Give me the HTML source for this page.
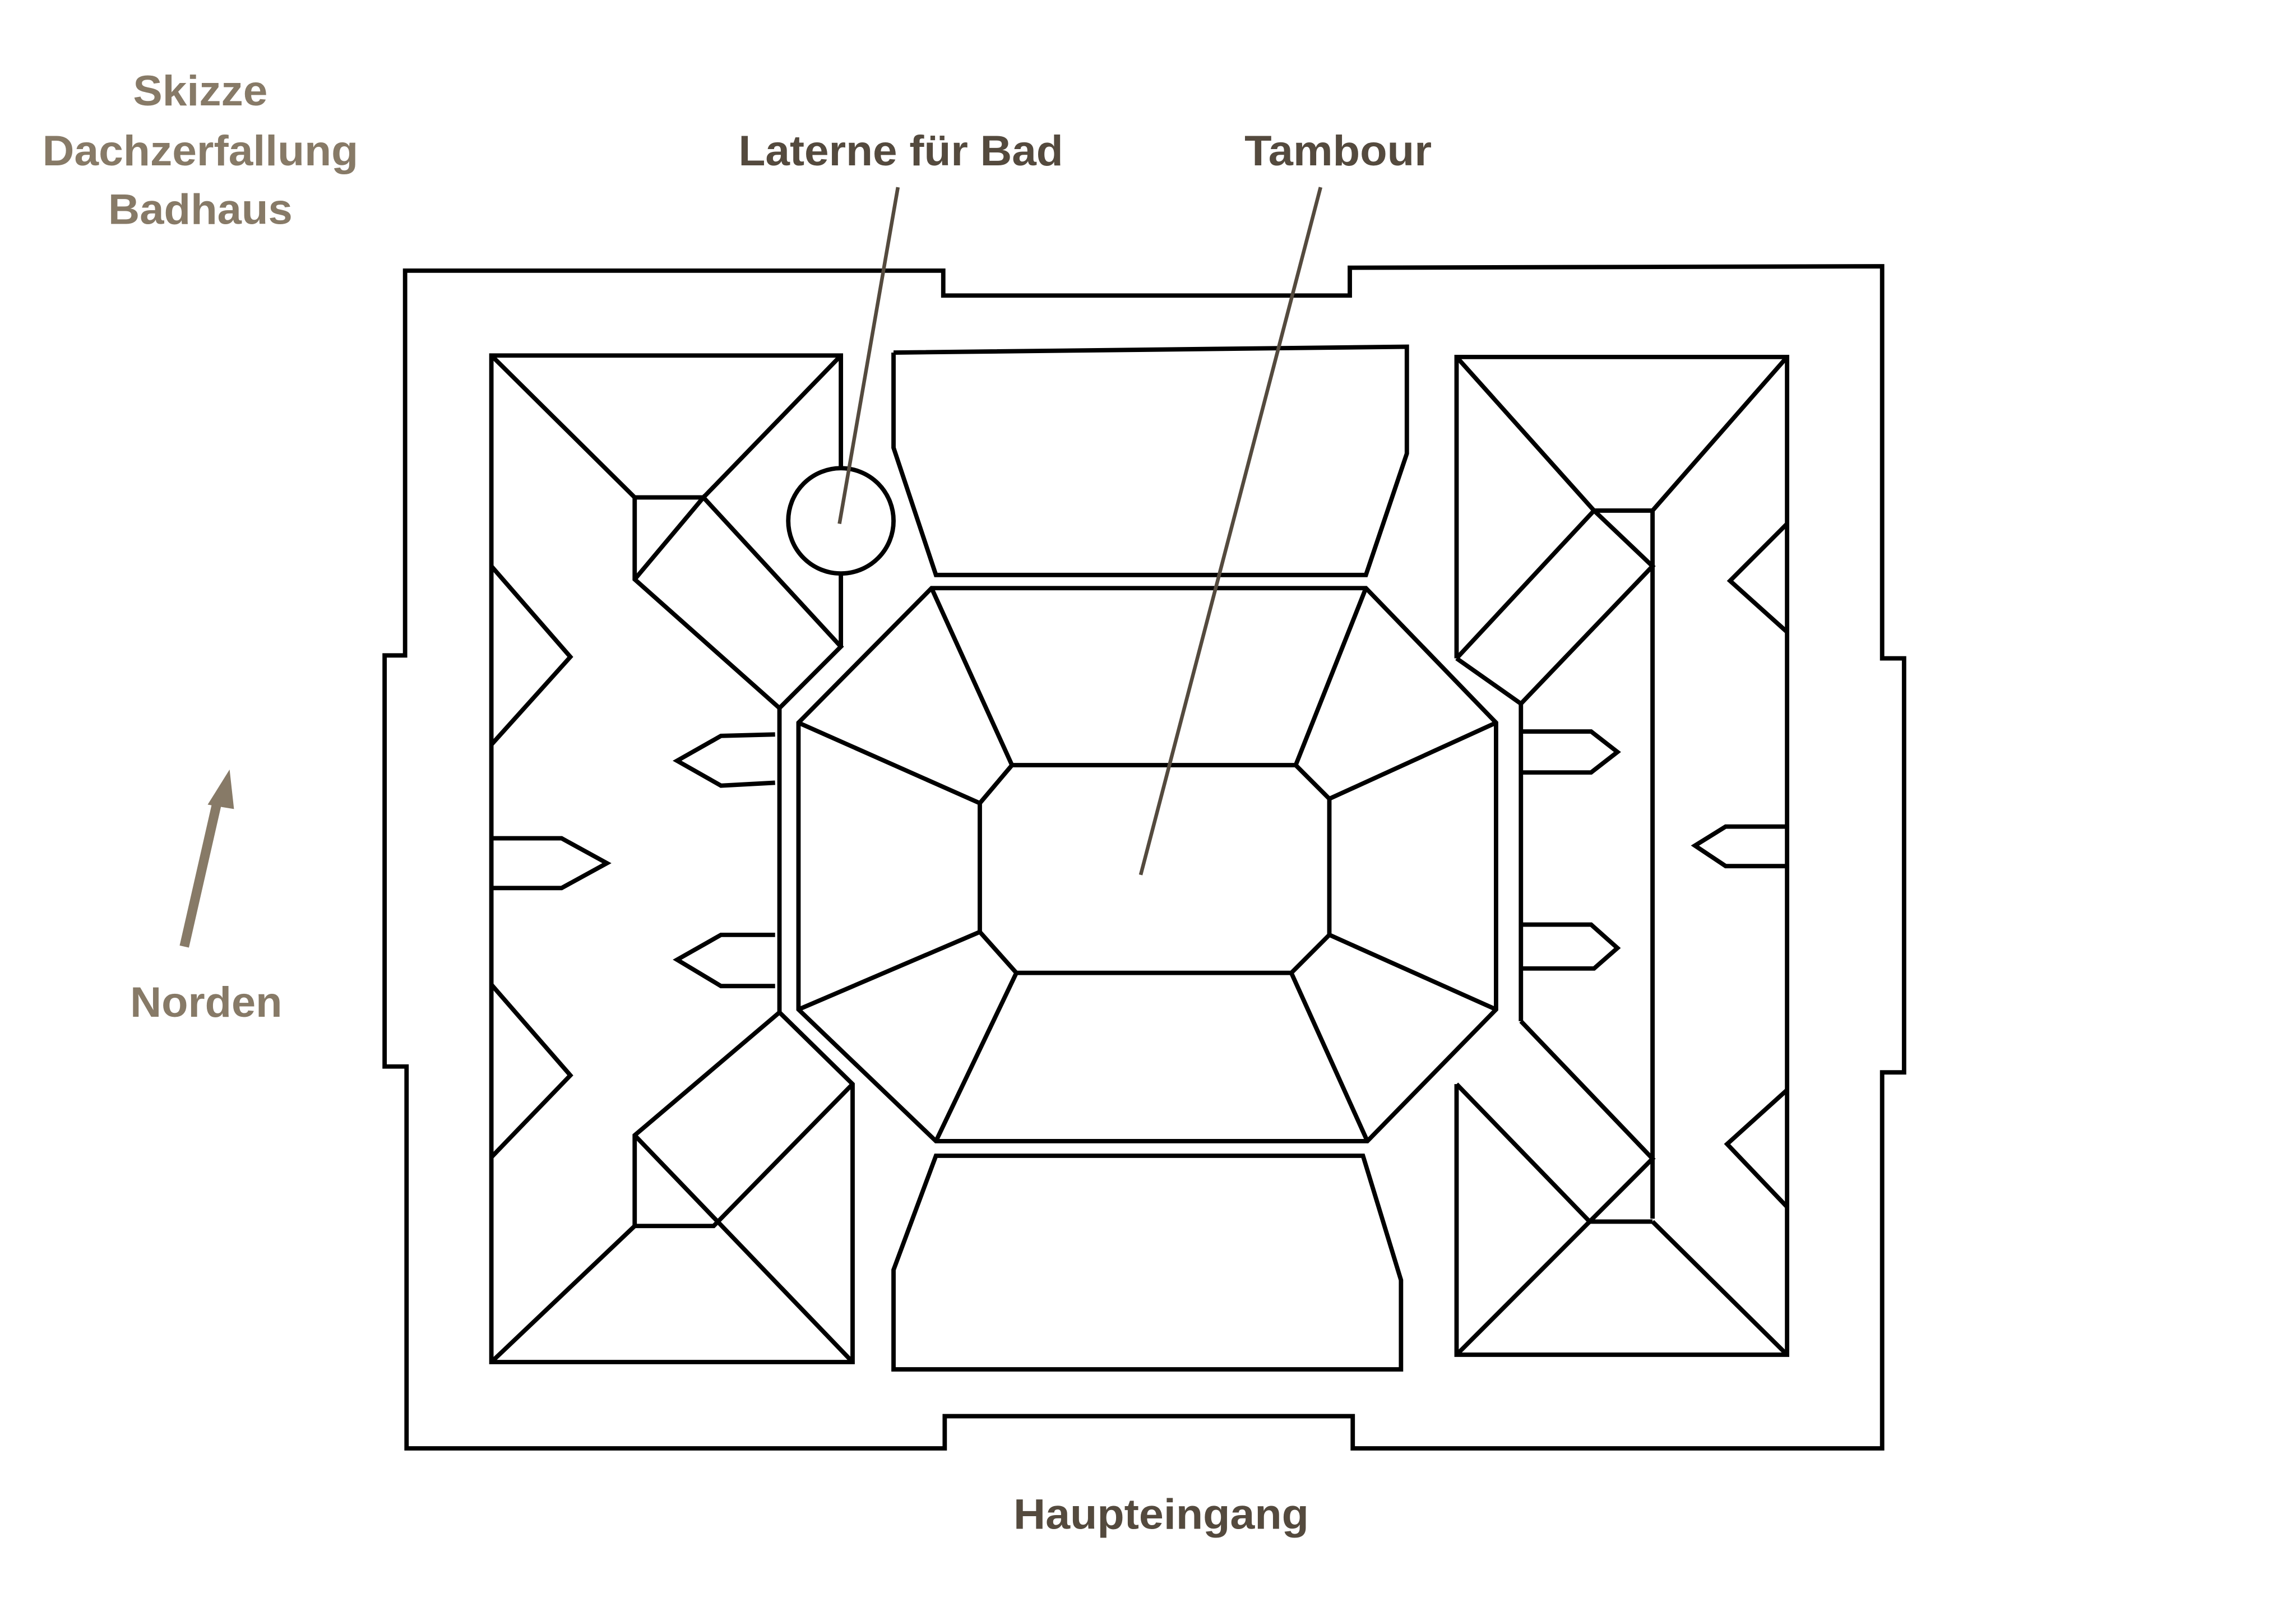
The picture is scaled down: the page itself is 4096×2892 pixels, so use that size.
<!DOCTYPE html>
<html><head><meta charset="utf-8"><style>
html,body{margin:0;padding:0;background:#fff;}
svg{display:block;}
text{font-family:"Liberation Sans Narrow","Liberation Sans",sans-serif;font-weight:bold;font-size:29px;text-anchor:middle;}
</style></head><body>
<svg width="4096" height="2892" viewBox="0 0 1570 1108" preserveAspectRatio="none" xmlns="http://www.w3.org/2000/svg">
<rect width="1570" height="1108" fill="#fff"/>
<g fill="#877a67">
<text x="137" y="72" textLength="92" lengthAdjust="spacingAndGlyphs">Skizze</text>
<text x="137" y="113" textLength="216" lengthAdjust="spacingAndGlyphs">Dachzerfallung</text>
<text x="137" y="153" textLength="126" lengthAdjust="spacingAndGlyphs">Badhaus</text>
<text x="141" y="695" textLength="104" lengthAdjust="spacingAndGlyphs">Norden</text>
</g>
<g fill="#544a3e">
<text x="616" y="113" textLength="222" lengthAdjust="spacingAndGlyphs">Laterne für Bad</text>
<text x="915" y="113" textLength="128" lengthAdjust="spacingAndGlyphs">Tambour</text>
<text x="794" y="1045" textLength="202" lengthAdjust="spacingAndGlyphs">Haupteingang</text>
</g>
<line x1="126" y1="647" x2="149" y2="546" stroke="#877a67" stroke-width="6.5"/>
<polygon points="157,526 142,550 160,553" fill="#877a67"/>
<g fill="none" stroke="#000" stroke-width="3" stroke-linejoin="miter">
<polygon points="277,185 645,185 645,202 923,202 923,183 1287,182 1287,450 1302,450 1302,733 1287,733 1287,990 925,990 925,968 646,968 646,990 278,990 278,729 263,729 263,448 277,448"/>
<polyline points="575,320 575,243 336,243 336,931 583,931 583,741 533,692"/>
<line x1="575" y1="392" x2="575" y2="442"/>
<circle cx="575" cy="356" r="36"/>
<polyline points="336,243 434,340 481,340 575,243"/>
<polyline points="434,340 434,396 533,484 575,442 481,340 434,396"/>
<polyline points="336,387 390,449 336,509"/>
<polyline points="336,673 390,735 336,791"/>
<polyline points="336,573 384,573 415,590 384,607 336,607"/>
<polyline points="530,502 493,503 463,520 493,537 530,535"/>
<polyline points="530,639 493,639 463,656 493,674 530,674"/>
<polyline points="533,692 434,776 434,838 488,838 583,741"/>
<line x1="434" y1="776" x2="583" y2="931"/>
<line x1="434" y1="838" x2="336" y2="931"/>
<line x1="533" y1="484" x2="533" y2="692"/>
<polyline points="611,241 962,237 962,310 934,393 640,393 611,306 611,241"/>
<polygon points="637,402 934,402 1023,494 1023,690 935,780 640,780 546,690 546,494"/>
<polygon points="692,523 886,523 909,546 909,639 883,665 695,665 670,637 670,549"/>
<line x1="637" y1="402" x2="692" y2="523"/>
<line x1="934" y1="402" x2="886" y2="523"/>
<line x1="1023" y1="494" x2="909" y2="546"/>
<line x1="1023" y1="690" x2="909" y2="639"/>
<line x1="935" y1="780" x2="883" y2="665"/>
<line x1="640" y1="780" x2="695" y2="665"/>
<line x1="546" y1="690" x2="670" y2="637"/>
<line x1="546" y1="494" x2="670" y2="549"/>
<polygon points="640,790 932,790 958,875 958,936 611,936 611,868"/>
<polyline points="996,450 996,244 1222,244 1222,926 996,926 996,741"/>
<polyline points="996,244 1090,349 1130,349 1222,244"/>
<line x1="1130" y1="349" x2="1130" y2="833"/>
<polyline points="996,450 1090,349 1130,387 1040,481 996,450"/>
<line x1="1040" y1="481" x2="1040" y2="698"/>
<polyline points="1040,698 1130,792 1087,835 996,741"/>
<line x1="1087" y1="835" x2="1130" y2="835"/>
<line x1="1087" y1="835" x2="996" y2="926"/>
<line x1="1130" y1="835" x2="1222" y2="926"/>
<polyline points="1222,358 1183,397 1222,432"/>
<polyline points="1222,745 1181,782 1222,825"/>
<polyline points="1040,500 1088,500 1106,514 1088,528 1040,528"/>
<polyline points="1040,632 1088,632 1106,648 1090,662 1040,662"/>
<polyline points="1222,565 1180,565 1159,578 1180,592 1222,592"/>
</g>
<g stroke="#544a3e" stroke-width="2.5">
<line x1="614" y1="128" x2="574" y2="358"/>
<line x1="903" y1="128" x2="780" y2="598"/>
</g>
</svg>
</body></html>
